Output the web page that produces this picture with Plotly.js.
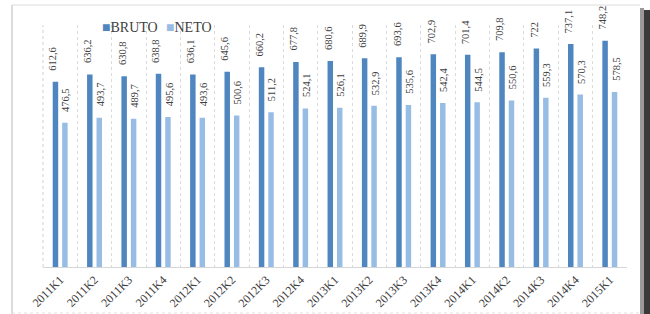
<!DOCTYPE html>
<html>
<head>
<meta charset="utf-8">
<script src="https://cdn.plot.ly/plotly-3.0.1.min.js"></script>
<style>html,body{margin:0;padding:0;background:#fff;}#chart{width:650px;height:314px;}</style>
</head>
<body>
<div id="chart"></div>
<script>
const categories = ['2011K1','2011K2','2011K3','2011K4','2012K1','2012K2','2012K3','2012K4','2013K1','2013K2','2013K3','2013K4','2014K1','2014K2','2014K3','2014K4','2015K1'];
const bruto = [612.6,636.2,630.8,638.8,636.1,645.6,660.2,677.8,680.6,689.9,693.6,702.9,701.4,709.8,722,737.1,748.2];
const neto  = [476.5,493.7,489.7,495.6,493.6,500.6,511.2,524.1,526.1,532.9,535.6,542.4,544.5,550.6,559.3,570.3,578.5];
const seriesNames = ['BRUTO','NETO'];
const colors = ['#4f86c0','#98bde5'];

const fmt = v => String(v).replace('.', ',');
const serif = '"Liberation Serif", "Times New Roman", serif';

const traces = [bruto, neto].map((vals, i) => ({
  type: 'bar', x: categories, y: vals, name: seriesNames[i],
  marker: {color: colors[i]}, hoverinfo: 'skip'
}));

const annotations = [];
[bruto, neto].forEach((vals, s) => {
  vals.forEach((v, k) => {
    annotations.push({
      x: categories[k], y: v, xref: 'x', yref: 'y',
      text: fmt(v), showarrow: false, textangle: -90,
      xanchor: 'center', yanchor: 'bottom',
      xshift: s === 0 ? -7 : 6, yshift: 9,
      font: {family: serif, size: 10.5, color: '#404040'}
    });
  });
});
// legend as text
seriesNames.forEach((n, i) => {
  annotations.push({
    xref: 'paper', yref: 'paper', x: i === 0 ? 0.098 : 0.208, y: 0.99,
    xanchor: 'left', yanchor: 'middle', showarrow: false,
    text: '<span style="color:' + colors[i] + '">■</span>' + n,
    font: {family: serif, size: 14, color: '#404040'}
  });
});

const px2x = p => (p - 43) / 584;
const px2y = p => (267 - p) / 242;

const layout = {
  width: 650, height: 314,
  margin: {l: 43, r: 23, t: 25, b: 47},
  paper_bgcolor: '#fff', plot_bgcolor: '#fff',
  showlegend: false,
  barmode: 'group', bargap: 0.45, bargroupgap: 0.42,
  xaxis: {
    type: 'category', tickson: 'boundaries', ticks: 'outside', ticklen: 4, tickcolor: 'rgba(0,0,0,0)',
    showgrid: true, gridcolor: '#dadada', griddash: 'dot', gridwidth: 1,
    showline: true, linecolor: '#d6d6d6', linewidth: 1,
    tickangle: -45, tickfont: {family: serif, size: 12, color: '#404040'},
    fixedrange: true
  },
  yaxis: {
    range: [0, 800], showgrid: false, zeroline: false, showticklabels: false,
    showline: false, ticks: '', fixedrange: true
  },
  annotations: annotations,
  shapes: [
    {type: 'line', xref: 'paper', yref: 'paper', x0: px2x(12), x1: px2x(640), y0: px2y(5), y1: px2y(5), line: {color: '#dcdcdc', width: 1}},
    {type: 'line', xref: 'paper', yref: 'paper', x0: px2x(12), x1: px2x(12), y0: px2y(5), y1: px2y(314), line: {color: '#d0d0d0', width: 1.5}},
    {type: 'line', xref: 'paper', yref: 'paper', x0: px2x(12), x1: px2x(640), y0: px2y(313), y1: px2y(313), line: {color: '#e0e0e0', width: 1, dash: 'dot'}},
    {type: 'line', xref: 'paper', yref: 'paper', x0: px2x(43), x1: px2x(43), y0: 0, y1: 1, line: {color: '#d0d0d0', width: 1, dash: 'dot'}},
    {type: 'rect', xref: 'paper', yref: 'paper', x0: px2x(640), x1: px2x(644), y0: px2y(8), y1: px2y(314), fillcolor: '#9a9a9a', line: {width: 0}},
    {type: 'rect', xref: 'paper', yref: 'paper', x0: px2x(644), x1: px2x(650), y0: px2y(10), y1: px2y(314), fillcolor: '#3a3a3a', line: {width: 0}}
  ]
};

Plotly.newPlot('chart', traces, layout, {displayModeBar: false, staticPlot: true});
</script>
</body>
</html>
